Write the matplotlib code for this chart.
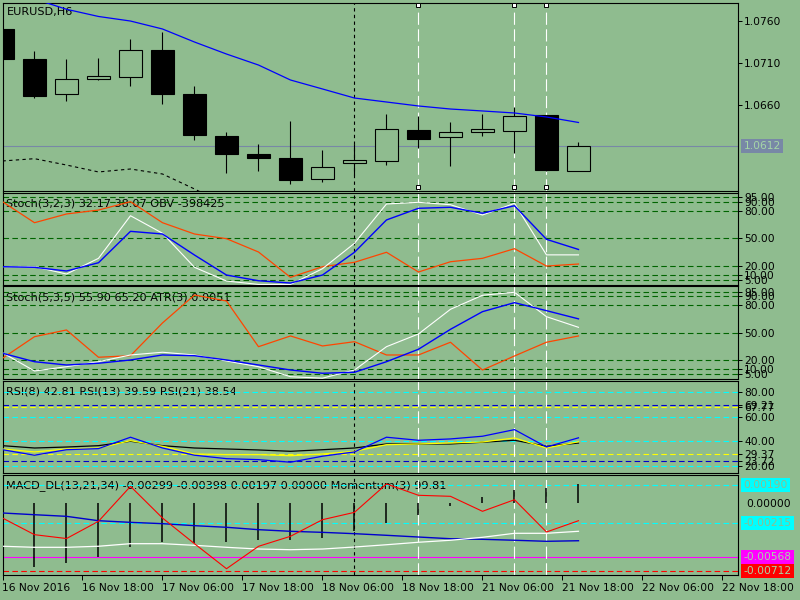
import matplotlib
matplotlib.use("Agg")
import matplotlib.pyplot as plt
from matplotlib.transforms import offset_copy, blended_transform_factory

plt.rcParams['font.family'] = ['DejaVu Sans']

BG = "#8fbc8f"
FS = 7.7
HFS = 8.1

# ---- data (H6 bars, index 0..18) ----
bars = list(range(19))
opens = [1.07502, 1.07147, 1.06730, 1.06907, 1.06931, 1.07254, 1.06734, 1.06243, 1.06024, 1.05977,
         1.05732, 1.05921, 1.05938, 1.06308, 1.06222, 1.06281, 1.06300, 1.06485, 1.05827]
highs = [1.07502, 1.07242, 1.07147, 1.07159, 1.07384, 1.07466, 1.06828, 1.06279, 1.06137, 1.06420,
         1.06072, 1.06139, 1.06497, 1.06474, 1.06403, 1.06497, 1.06583, 1.06489, 1.06166]
lows = [1.07151, 1.06690, 1.06654, 1.06896, 1.06832, 1.06619, 1.06193, 1.05803, 1.05827, 1.05673,
        1.05697, 1.05776, 1.05898, 1.06099, 1.05886, 1.06237, 1.06040, 1.05827, 1.05827]
closes = [1.07151, 1.06713, 1.06907, 1.06943, 1.07250, 1.06737, 1.06252, 1.06028, 1.05981, 1.05721,
          1.05867, 1.05953, 1.06316, 1.06205, 1.06281, 1.06320, 1.06474, 1.05839, 1.06120]
ma_line = [1.07904, 1.07857, 1.07735, 1.07650, 1.07596, 1.07502, 1.07348, 1.07206, 1.07076, 1.06899,
           1.06793, 1.06686, 1.06639, 1.06592, 1.06556, 1.06533, 1.06509, 1.06462, 1.06397]
env_low = [1.05942, 1.05969, 1.05894, 1.05812, 1.05847, 1.05788, 1.05611, 1.05421, 1.05250]
last_price = 1.0612
price_ticks = [1.0760, 1.0710, 1.0660]

st1_main = [19.3, 19.3, 11.3, 28.4, 74.8, 55.7, 18.6, 3.7, 0.0, 0.0,
            17.1, 44.8, 87.6, 89.4, 86.8, 75.6, 88.3, 32.17, 32.17]
st1_signal = [19.3, 18.6, 14.6, 23.6, 57.8, 54.9, 32.0, 10.2, 4.0, 1.5,
              10.2, 35.0, 70.2, 82.9, 84.0, 77.5, 85.7, 49.1, 38.07]
obv_scaled = [90.1, 67.2, 76.7, 81.0, 90.1, 67.2, 54.9, 49.8, 35.3, 7.7,
              19.3, 24.1, 35.0, 13.5, 24.7, 28.4, 38.9, 20.0, 22.2]

st2_main = [28.0, 7.9, 12.6, 18.1, 25.5, 28.5, 25.5, 18.9, 12.6, 1.6,
            0.0, 9.0, 34.6, 48.6, 75.7, 91.1, 94.4, 67.6, 55.90]
st2_signal = [27.4, 18.1, 14.5, 16.4, 20.0, 25.5, 24.7, 20.0, 14.5, 9.0,
              5.4, 6.5, 18.1, 31.8, 53.7, 73.1, 83.0, 74.2, 65.20]
atr_scaled = [21.9, 45.6, 53.0, 23.0, 24.7, 60.7, 91.4, 84.8, 34.6, 46.4,
              35.4, 40.1, 25.5, 25.5, 39.5, 9.0, 24.4, 39.5, 46.4]
stoch_levels = [95, 90, 80, 50, 20, 10, 5]

rsi8 = [33.1, 28.6, 33.1, 34.0, 43.3, 34.5, 28.6, 25.8, 25.0, 22.9,
        27.8, 31.3, 43.3, 40.8, 41.9, 44.1, 49.5, 35.3, 42.81]
rsi13 = [33.7, 31.3, 33.7, 34.5, 40.5, 35.9, 29.6, 29.1, 29.1, 28.2,
         29.6, 31.8, 37.2, 37.8, 38.6, 39.4, 42.7, 34.5, 39.59]
rsi21 = [36.4, 34.5, 35.3, 36.4, 40.0, 36.4, 34.5, 33.7, 32.9, 31.8,
         33.1, 34.5, 37.8, 37.8, 37.8, 39.2, 40.8, 35.9, 38.54]
rsi_cyan = [80, 60, 40, 20]
rsi_blue = [69.21, 23.72]
rsi_yellow = [67.77, 29.37]

macd_main = [-0.00107, -0.00125, -0.00142, -0.00188, -0.00205, -0.00219, -0.00240, -0.00257, -0.00282, -0.00299,
             -0.00310, -0.00324, -0.00341, -0.00359, -0.00377, -0.00383, -0.00393, -0.00404, -0.00398]
macd_signal = [-0.00456, -0.00467, -0.00467, -0.00456, -0.00429, -0.00429, -0.00446, -0.00467, -0.00485, -0.00492,
               -0.00485, -0.00464, -0.00440, -0.00414, -0.00393, -0.00362, -0.00320, -0.00320, -0.00299]
macd_hist = [-0.00710, -0.00674, -0.00633, -0.00570, -0.00465, -0.00412, -0.00422, -0.00412, -0.00391, -0.00394,
             -0.00370, -0.00300, -0.00212, -0.00124, -0.00030, 0.00060, 0.00130, 0.00155, 0.00197]
momentum = [99.865, 99.523, 99.444, 99.798, 100.516, 99.865, 99.338, 98.824, 99.284, 99.490,
            99.831, 99.982, 100.564, 100.332, 100.311, 100.003, 100.241, 99.578, 99.81]
macd_cyan = [0.00190, -0.00215]
macd_magenta = -0.00568
macd_red = -0.00712

time_ticks = [0, 2.5, 5, 7.5, 10, 12.5, 15, 17.5, 20, 22.5]
time_labels = ["16 Nov 2016", "16 Nov 18:00", "17 Nov 06:00", "17 Nov 18:00", "18 Nov 06:00",
               "18 Nov 18:00", "21 Nov 06:00", "21 Nov 18:00", "22 Nov 06:00", "22 Nov 18:00"]
black_vline = 11
white_vlines = [13, 16, 17]

fig = plt.figure(figsize=(8, 6), dpi=100, facecolor=BG)


def panel(top, bottom, ylim):
    ax = fig.add_axes([2.5 / 800, 1 - bottom / 600, 735 / 800, (bottom - top) / 600])
    ax.set_facecolor(BG)
    ax.set_xlim(0, 22.97)
    ax.set_ylim(*ylim)
    for s in ax.spines.values():
        s.set_color("black")
        s.set_linewidth(0.8)
    ax.tick_params(axis="x", bottom=False, labelbottom=False)
    ax.yaxis.tick_right()
    ax.tick_params(axis="y", direction="out", length=3.2, width=0.72, pad=1.6,
                   labelsize=FS, colors="black", left=False, right=True)
    return ax


def header(ax, text, dx, dy):
    tr = offset_copy(ax.transAxes, fig=fig, x=dx, y=-dy, units="dots")
    ax.text(0, 1, text, transform=tr, fontsize=HFS, va="center", ha="left", zorder=1)


def vert_lines(ax):
    ax.axvline(black_vline, color="black", lw=0.8, ls=(0, (3, 3)), zorder=1.5)
    for b in white_vlines:
        ax.axvline(b, color="white", lw=0.8, ls=(0, (11, 4)), zorder=1.5)


def box_label(ax, y, text, fc, tc):
    tr = offset_copy(blended_transform_factory(ax.transAxes, ax.transData), fig=fig, x=6, y=0, units="dots")
    ax.text(1, y, text, transform=tr, fontsize=FS, va="center", ha="left", color=tc,
            bbox=dict(boxstyle="square,pad=0.2", fc=fc, ec="none"), clip_on=False, zorder=5)


# ---- main price panel ----
ax0 = panel(2.5, 190.5, (1.055929, 1.078151))
vert_lines(ax0)
ax0.axhline(last_price, color="#7888a6", lw=0.8, zorder=1.6)
ax0.vlines(bars, lows, highs, color="black", lw=0.8, zorder=3)
body_bottom = [min(o, c) for o, c in zip(opens, closes)]
body_height = [max(abs(c - o), 0.00003) for o, c in zip(opens, closes)]
body_color = ["black" if c < o else BG for o, c in zip(opens, closes)]
ax0.bar(bars, body_height, bottom=body_bottom, width=0.7, color=body_color,
        edgecolor="black", linewidth=0.8, zorder=4)
ax0.plot(bars, ma_line, color="#0000ff", lw=0.9, zorder=5)
ax0.plot(bars[:len(env_low)], env_low, color="black", lw=0.8, ls=(0, (3, 3)), zorder=5)
ax0.set_yticks(price_ticks, [f"{p:.4f}" for p in price_ticks])
ax0.plot(white_vlines, [1.07786] * 3, ls="none", marker="s", ms=3, mfc="white", mec="black", mew=0.7,
         zorder=6, clip_on=False)
ax0.plot(white_vlines, [1.05631] * 3, ls="none", marker="s", ms=3, mfc="white", mec="black", mew=0.7,
         zorder=6, clip_on=False)
box_label(ax0, last_price, "1.0612", "#7888a6", "#a6d6a6")
header(ax0, "EURUSD,H6", 4.8, 9.5)

# ---- stochastic panels ----
stoch_specs = [
    ((192.5, 284.5), (-0.1, 100.1), st1_main, st1_signal, obv_scaled,
     "Stoch(3,2,3) 32.17 38.07 OBV -398425", 10.8),
    ((286, 379), (-0.9, 101.3), st2_main, st2_signal, atr_scaled,
     "Stoch(5,3,5) 55.90 65.20 ATR(3) 0.0051", 11.3),
]
for (top, bottom), lim, k_line, d_line, extra, title, dy in stoch_specs:
    ax = panel(top, bottom, lim)
    for lv in stoch_levels:
        ax.axhline(lv, color="#006400", lw=0.8, ls=(0, (5, 3)), zorder=1.2)
    vert_lines(ax)
    ax.plot(bars, extra, color="#ff4500", lw=0.9, zorder=3)
    ax.plot(bars, k_line, color="white", lw=0.8, zorder=3)
    ax.plot(bars, d_line, color="#0000ff", lw=1.0, zorder=3)
    ax.set_yticks(stoch_levels, [f"{v:.2f}" for v in stoch_levels])
    header(ax, title, 3.5, dy)

# ---- RSI panel ----
ax3 = panel(380.5, 472.5, (14.5, 89.6))
for lv in rsi_cyan:
    ax3.axhline(lv, color="#00ffff", lw=0.8, ls=(0, (5, 3)), zorder=1.2)
for lv in rsi_blue:
    ax3.axhline(lv, color="#0000cd", lw=0.8, ls=(0, (5, 3)), zorder=1.2)
for lv in rsi_yellow:
    ax3.axhline(lv, color="#ffff00", lw=0.8, ls=(0, (5, 3)), zorder=1.2)
vert_lines(ax3)
ax3.plot(bars, rsi21, color="black", lw=0.9, zorder=3)
ax3.plot(bars, rsi13, color="#ffff00", lw=0.9, zorder=3)
ax3.plot(bars, rsi8, color="#0000ff", lw=0.9, zorder=3)
rsi_ticks = sorted(rsi_cyan + rsi_blue + rsi_yellow)
ax3.set_yticks(rsi_ticks, [f"{v:.2f}" for v in rsi_ticks])
header(ax3, "RSI(8) 42.81 RSI(13) 39.59 RSI(21) 38.54", 3.5, 11.5)

# ---- MACD / Momentum panel ----
ax4 = panel(474.5, 575, (-0.007575, 0.002969))
axm = ax4.twinx()
axm.set_ylim(98.695, 100.759)
axm.set_axis_off()
ax4.yaxis.tick_right()
ax4.tick_params(axis="y", left=False, right=True, labelleft=False, labelright=True)
for lv in macd_cyan:
    ax4.axhline(lv, color="#00ffff", lw=0.8, ls=(0, (5, 3)), zorder=1.2)
ax4.axhline(macd_magenta, color="#ff00ff", lw=0.8, zorder=1.2)
ax4.axhline(macd_red, color="#ff0000", lw=0.8, ls=(0, (5, 3)), zorder=1.2)
vert_lines(ax4)
ax4.vlines(bars, 0, macd_hist, color="black", lw=1.1, zorder=2)
ax4.plot(bars, macd_main, color="#0000cd", lw=1.0, zorder=3)
ax4.plot(bars, macd_signal, color="white", lw=0.9, zorder=3)
axm.plot(bars, momentum, color="#ff0000", lw=0.8, zorder=3)
ax4.set_yticks([0.0], ["0.00000"])
ax4.tick_params(axis="y", length=0, pad=6)
box_label(ax4, macd_cyan[0], "0.00190", "#00ffff", "#8fbc8f")
box_label(ax4, macd_cyan[1], "-0.00215", "#00ffff", "#8fbc8f")
box_label(ax4, macd_magenta, "-0.00568", "#ff00ff", "#a6d6a6")
box_label(ax4, macd_red, "-0.00712", "#ff0000", "#a6d6a6")
header(ax4, "MACD_DL(13,21,34) -0.00299 -0.00398 0.00197 0.00000 Momentum(3) 99.81", 3.5, 10.8)

ax4.set_xticks(time_ticks, time_labels)
ax4.tick_params(axis="x", bottom=True, labelbottom=True, direction="out", length=3.5, width=0.72,
                pad=2.0, labelsize=FS, colors="black")
for lbl in ax4.get_xticklabels():
    lbl.set_horizontalalignment("left")

fig.savefig("out.png", dpi=100, facecolor=BG)
